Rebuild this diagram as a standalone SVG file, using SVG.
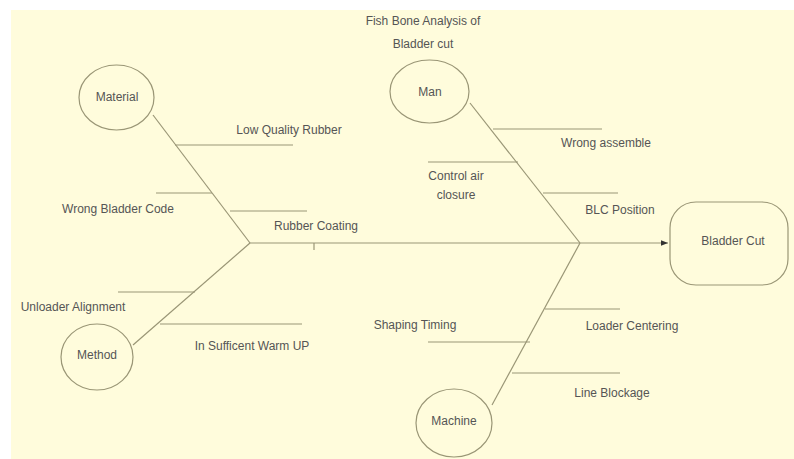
<svg xmlns="http://www.w3.org/2000/svg" width="794" height="459" viewBox="0 0 794 459">
<defs>
<style>
.ln{stroke:#9a9676;stroke-width:1.2;fill:none}
.nd{stroke:#9a9676;stroke-width:1.2;fill:#FFFCDC}
text{font-family:"Liberation Sans",Arial,sans-serif;font-size:12px;fill:#555;text-anchor:middle;dominant-baseline:central}
</style>
<marker id="arr" viewBox="0 0 10 10" refX="10" refY="5" markerWidth="7" markerHeight="7" markerUnits="userSpaceOnUse" orient="auto">
<path d="M0,1 L10,5 L0,9 z" fill="#333"/>
</marker>
</defs>
<rect x="0" y="0" width="794" height="459" fill="#ffffff"/>
<rect x="11" y="10" width="783" height="449" fill="#FFFCDC"/>
<g id="title">
<text x="423" y="21">Fish Bone Analysis of</text>
<text x="423" y="44">Bladder cut</text>
</g>
<g id="connectors">
<line class="ln" x1="250" y1="243" x2="668" y2="243" marker-end="url(#arr)"/>
<line class="ln" x1="314" y1="243" x2="314" y2="250"/>
<line class="ln" x1="153" y1="115" x2="250" y2="243"/>
<line class="ln" x1="133" y1="345" x2="250" y2="243"/>
<line class="ln" x1="470" y1="103" x2="580" y2="243"/>
<line class="ln" x1="492" y1="405" x2="580" y2="243"/>
<line class="ln" x1="175" y1="145" x2="293" y2="145"/>
<line class="ln" x1="156" y1="193" x2="212" y2="193"/>
<line class="ln" x1="230" y1="211" x2="307" y2="211"/>
<line class="ln" x1="118" y1="292" x2="195" y2="292"/>
<line class="ln" x1="160" y1="324" x2="302" y2="324"/>
<line class="ln" x1="493" y1="129" x2="602" y2="129"/>
<line class="ln" x1="428" y1="162" x2="518" y2="162"/>
<line class="ln" x1="543" y1="193" x2="618" y2="193"/>
<line class="ln" x1="545" y1="309" x2="620" y2="309"/>
<line class="ln" x1="428" y1="342" x2="530" y2="342"/>
<line class="ln" x1="512" y1="373" x2="620" y2="373"/>
</g>
<g id="labels">
<text x="289" y="130">Low Quality Rubber</text>
<text x="118" y="209">Wrong Bladder Code</text>
<text x="316" y="226">Rubber Coating</text>
<text x="73" y="307">Unloader Alignment</text>
<text x="252" y="346">In Sufficent Warm UP</text>
<text x="606" y="143">Wrong assemble</text>
<text x="456" y="176">Control air</text>
<text x="456" y="195">closure</text>
<text x="620" y="210">BLC Position</text>
<text x="415" y="325">Shaping Timing</text>
<text x="632" y="326">Loader Centering</text>
<text x="612" y="393">Line Blockage</text>
</g>
<g id="material">
<ellipse class="nd" cx="116.5" cy="97.5" rx="37.5" ry="32.5"/>
<text x="117" y="97">Material</text>
</g>
<g id="method">
<ellipse class="nd" cx="97" cy="357" rx="36" ry="33"/>
<text x="97" y="355">Method</text>
</g>
<g id="man">
<ellipse class="nd" cx="429.5" cy="91.5" rx="39.5" ry="31.5"/>
<text x="430" y="92">Man</text>
</g>
<g id="machine">
<ellipse class="nd" cx="454" cy="423" rx="38" ry="34"/>
<text x="454" y="421">Machine</text>
</g>
<g id="bladder-cut">
<rect class="nd" x="670" y="202" width="118" height="83" rx="26" ry="26"/>
<text x="733" y="241">Bladder Cut</text>
</g>
</svg>
